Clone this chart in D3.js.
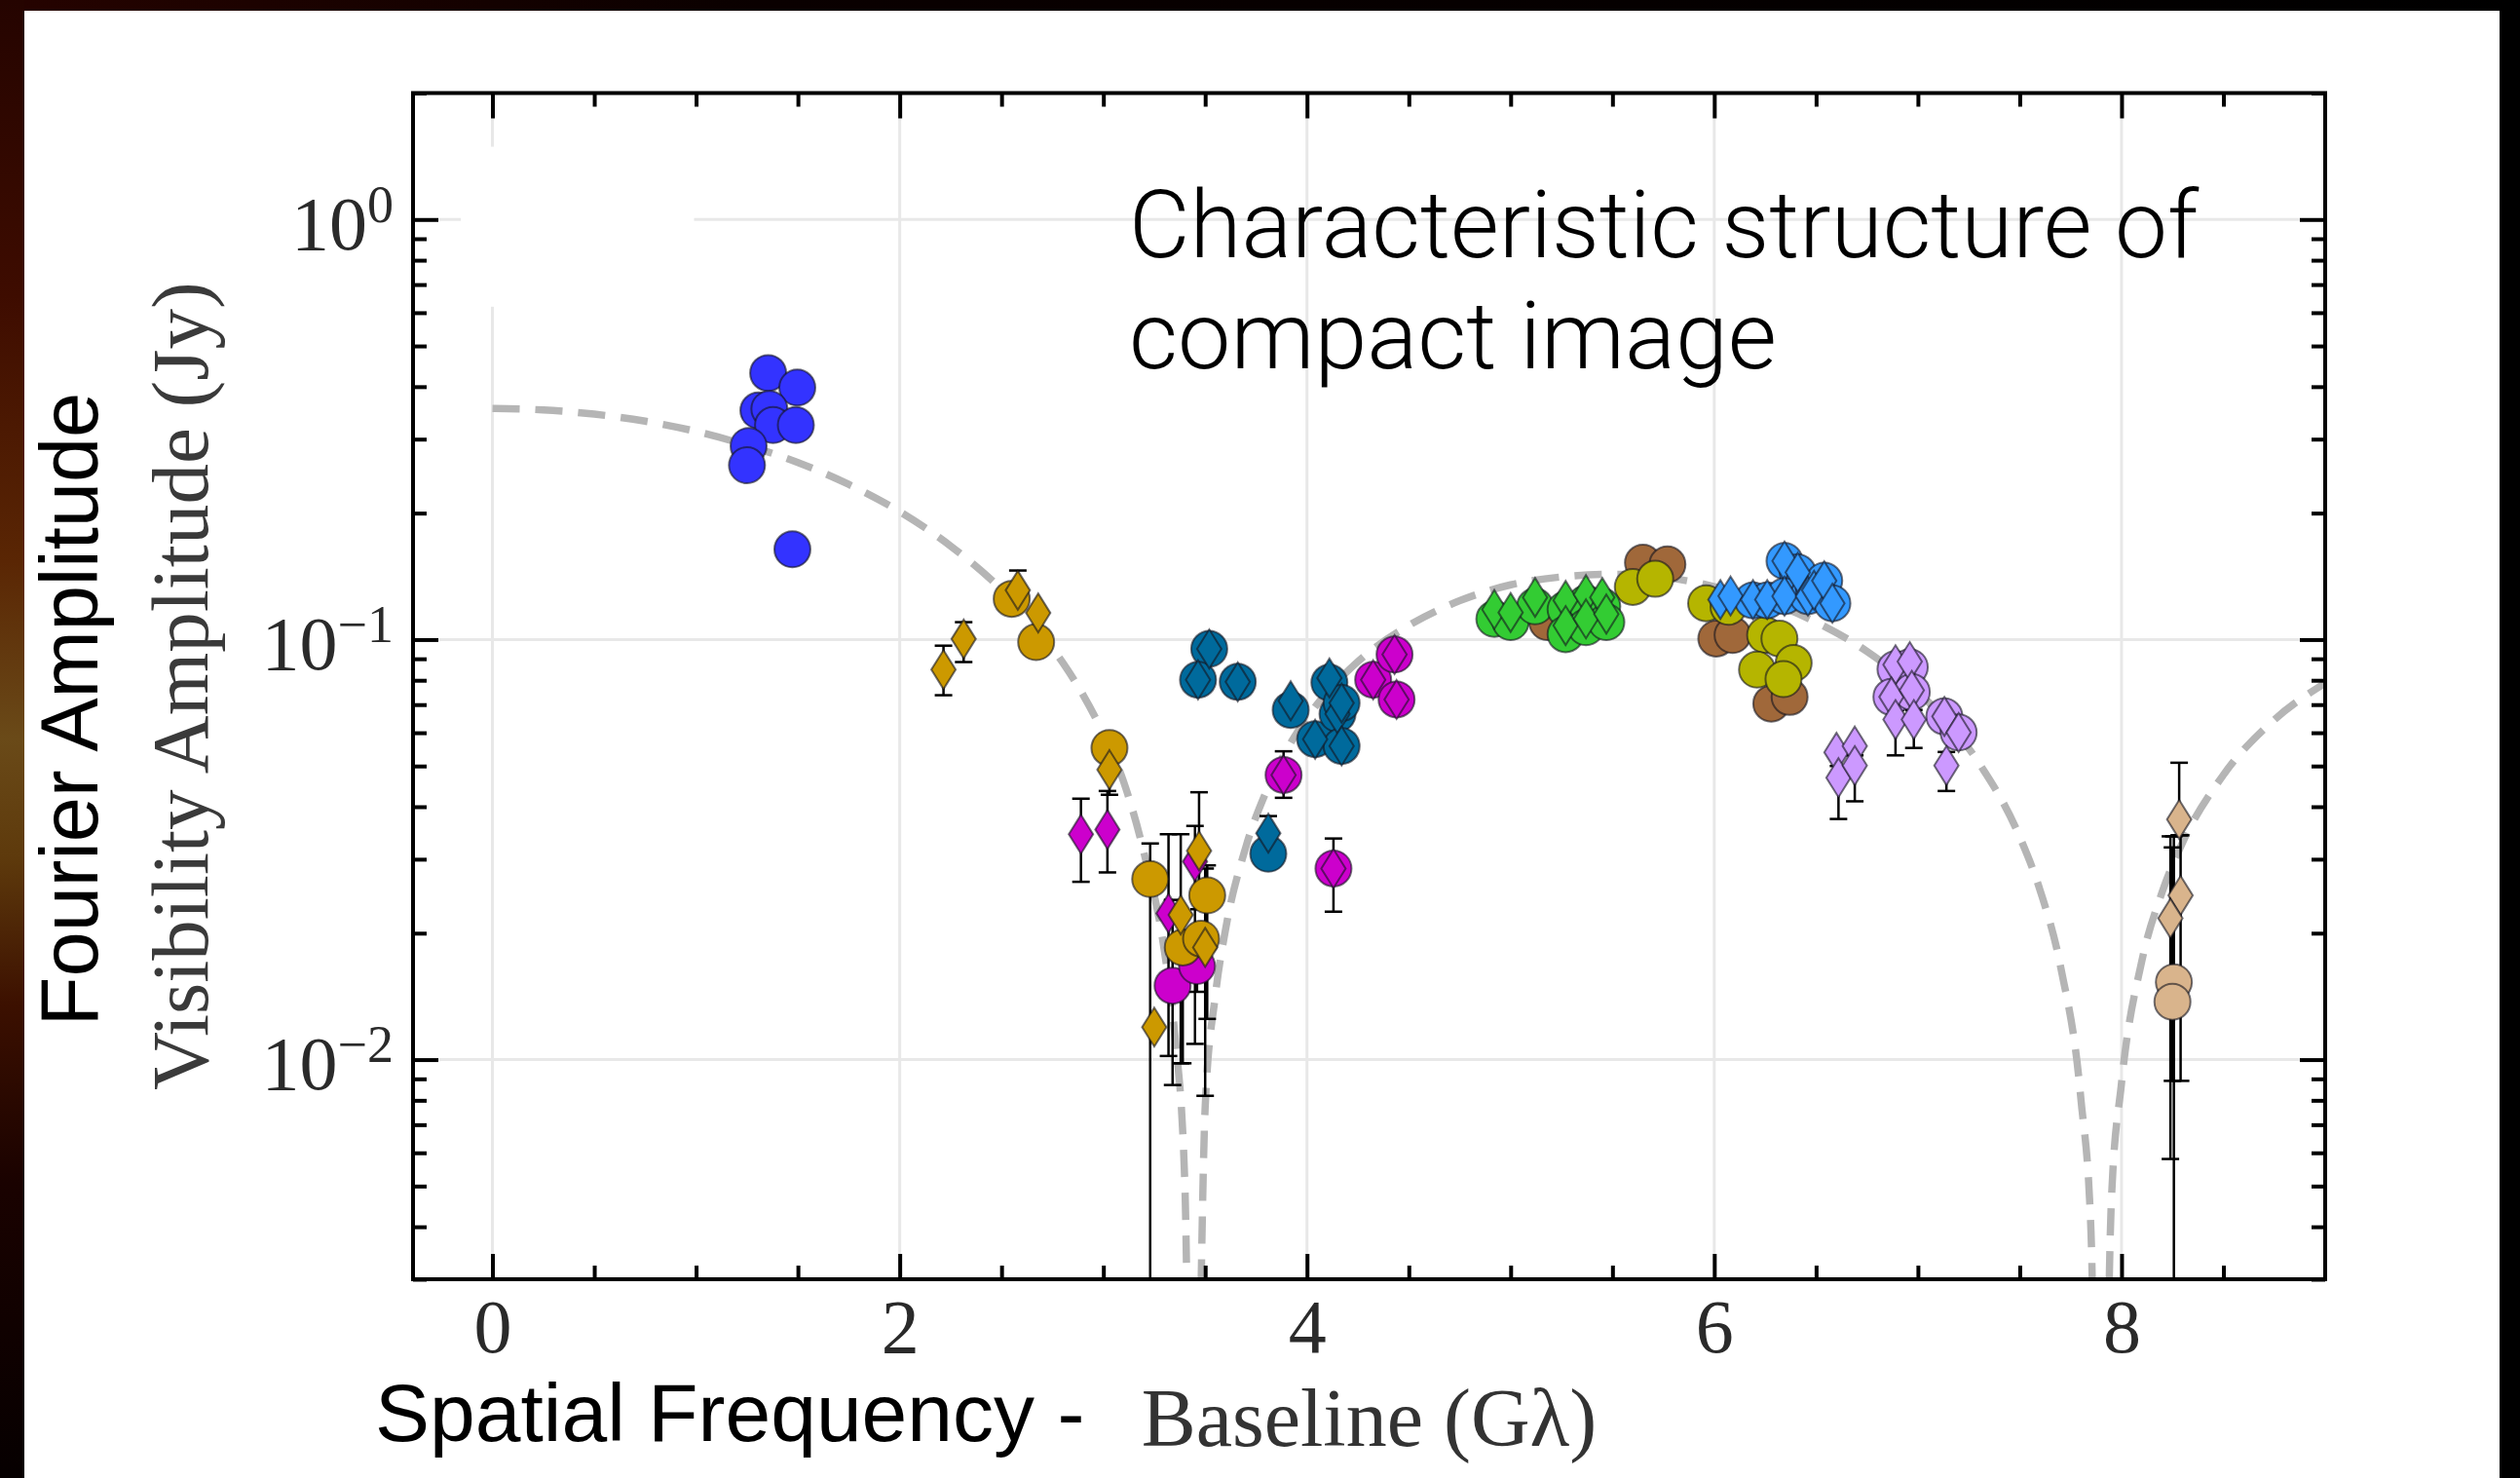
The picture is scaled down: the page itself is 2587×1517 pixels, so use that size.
<!DOCTYPE html>
<html lang="en">
<head>
<meta charset="UTF-8">
<title>Characteristic structure of compact image</title>
<script src="https://d3js.org/d3.v7.min.js"></script>
<style>
  body { margin: 0; background: #000; }
  svg { display: block; }
  .tick line { stroke: #000; stroke-width: 4; }
</style>
</head>
<body>
<div id="chart"></div>
<script>
// ---- data: [baseline Gλ, amplitude Jy, errLow, errHigh] ----
const xMajor = [0, 2, 4, 6, 8];
const xMinor = [0.5, 1, 1.5, 2.5, 3, 3.5, 4.5, 5, 5.5, 6.5, 7, 7.5, 8.5];
const yMajor = [1, 0.1, 0.01];
const yExponents = ["0", "\u22121", "\u22122"];

// dashed model curve
const modelCurve = [
  [0, 0.355], [0.25, 0.352], [0.5, 0.344], [0.75, 0.331], [1, 0.313], [1.25, 0.29],
  [1.5, 0.264], [1.75, 0.234], [2, 0.2016], [2.25, 0.167], [2.5, 0.1315], [2.65, 0.11],
  [2.8, 0.0882], [2.9, 0.0739], [3.0, 0.0597], [3.1, 0.0458], [3.2, 0.031], [3.3, 0.0181],
  [3.35, 0.0116], [3.4, 0.0051], [3.44, 0.0004], [3.5, 0.0077], [3.55, 0.0142], [3.6, 0.0204],
  [3.7, 0.0321], [3.8, 0.0435], [3.9, 0.0546], [4.0, 0.0651], [4.25, 0.0886], [4.5, 0.108],
  [4.75, 0.1237], [5.0, 0.135], [5.25, 0.141], [5.5, 0.143], [5.75, 0.1408], [6.0, 0.1337],
  [6.25, 0.1236], [6.5, 0.11], [6.75, 0.0937], [7.0, 0.0751], [7.15, 0.0632], [7.3, 0.0508],
  [7.5, 0.0339], [7.6, 0.0253], [7.7, 0.0167], [7.8, 0.0081], [7.85, 0.0039], [7.895, 0.0003],
  [7.95, 0.0046], [8.0, 0.0088], [8.1, 0.0172], [8.2, 0.0251], [8.3, 0.0329], [8.5, 0.0476],
  [8.75, 0.0644], [9.0, 0.0788]
];

const blueCircles = [[1.354, 0.431], [1.497, 0.398], [1.306, 0.351], [1.36, 0.354], [1.378, 0.324],
  [1.49, 0.324], [1.258, 0.289], [1.25, 0.26], [1.473, 0.164]];
const blueDiamonds = [];

const tealCircles = [[3.52, 0.095], [3.465, 0.0802], [3.66, 0.0793], [3.92, 0.068], [4.04, 0.0579],
  [4.11, 0.079], [4.15, 0.0665], [4.17, 0.0558], [4.17, 0.0706], [3.81, 0.0309]];
const tealDiamonds = [[3.52, 0.095], [3.465, 0.0802], [3.66, 0.0793], [3.92, 0.0715], [4.04, 0.0579],
  [4.11, 0.081], [4.15, 0.0665], [4.17, 0.0558], [4.17, 0.0706], [3.81, 0.0346, 0.032, 0.038]];

const magentaCircles = [[3.34, 0.015, 0.0087, 0.024], [3.46, 0.0167, 0.0145, 0.019],
  [3.885, 0.0476, 0.042, 0.0542], [4.13, 0.0285, 0.0225, 0.0336], [4.325, 0.0802], [4.43, 0.0921], [4.44, 0.072]];
const magentaDiamonds = [[2.89, 0.0344, 0.0265, 0.0418], [3.02, 0.0353, 0.0279, 0.0436],
  [3.32, 0.0223, 0.0102, 0.0344], [3.45, 0.0296, 0.0109, 0.036], [3.885, 0.0476], [4.13, 0.0285],
  [4.325, 0.0802], [4.43, 0.0921], [4.44, 0.072]];

const goldCircles = [[2.55, 0.125], [2.67, 0.0986, 0.095, 0.102], [3.03, 0.0552], [3.23, 0.0269, 0.001, 0.0327],
  [3.39, 0.0185, 0.0098, 0.0223], [3.48, 0.0194], [3.51, 0.0246, 0.0125, 0.029]];
const goldDiamonds = [[2.215, 0.0848, 0.0737, 0.0967], [2.314, 0.1003, 0.0884, 0.11], [2.58, 0.131, 0.12, 0.146],
  [2.68, 0.1157], [3.03, 0.049, 0.0427, 0.056], [3.25, 0.01195], [3.38, 0.0221, 0.0098, 0.0344],
  [3.47, 0.0314, 0.0228, 0.0433], [3.5, 0.0185, 0.0082, 0.0285]];

const brownCircles = [[5.18, 0.11], [5.65, 0.1524], [5.77, 0.151], [6.01, 0.1005], [6.09, 0.1025],
  [6.28, 0.0704], [6.37, 0.073]];
const brownDiamonds = [];

const oliveCircles = [[5.6, 0.1334], [5.71, 0.1395], [5.96, 0.122], [6.07, 0.1197], [6.25, 0.1025],
  [6.32, 0.1005], [6.21, 0.0848], [6.39, 0.0879], [6.34, 0.0805]];
const oliveDiamonds = [];

const greenCircles = [[4.92, 0.112], [5.0, 0.11], [5.12, 0.12], [5.27, 0.118], [5.37, 0.122],
  [5.45, 0.12], [5.27, 0.103], [5.37, 0.107], [5.47, 0.11]];
const greenDiamonds = [[4.92, 0.118], [5.0, 0.116], [5.12, 0.126], [5.27, 0.124], [5.37, 0.128],
  [5.45, 0.126], [5.27, 0.108], [5.37, 0.112], [5.47, 0.115]];

const lightBlueCircles = [[6.19, 0.124], [6.26, 0.124], [6.345, 0.1538], [6.41, 0.1445], [6.345, 0.1268],
  [6.46, 0.1268], [6.49, 0.131], [6.54, 0.138], [6.58, 0.122]];
const lightBlueDiamonds = [[6.03, 0.1245], [6.08, 0.127], [6.19, 0.1245], [6.26, 0.1245], [6.345, 0.1538],
  [6.41, 0.1445], [6.345, 0.1268], [6.46, 0.1268], [6.49, 0.131], [6.54, 0.138], [6.58, 0.122]];

const lavenderCircles = [[6.89, 0.085], [6.96, 0.086], [6.87, 0.073], [6.97, 0.075], [7.13, 0.0656], [7.2, 0.0601]];
const lavenderDiamonds = [[6.89, 0.0871], [6.96, 0.0886], [6.87, 0.073], [6.97, 0.0757],
  [6.89, 0.0645, 0.053, 0.068], [6.98, 0.0645, 0.0552, 0.068], [7.13, 0.0656], [7.2, 0.0601],
  [7.14, 0.0501, 0.0436, 0.054], [6.6, 0.0539], [6.61, 0.0469, 0.0374, 0.05], [6.69, 0.0558],
  [6.69, 0.0501, 0.0412, 0.053]];

const tanCircles = [[8.257, 0.01528, 0.001, 0.034], [8.25, 0.01373, 0.0089, 0.032]];
const tanDiamonds = [[8.283, 0.0373, 0.0342, 0.0509], [8.29, 0.0246, 0.0089, 0.0342], [8.24, 0.0217, 0.0058, 0.034]];

// draw order (back to front)
const seriesList = [
  { name: "blue", circles: blueCircles, diamonds: blueDiamonds },
  { name: "teal", circles: tealCircles, diamonds: tealDiamonds },
  { name: "magenta", circles: magentaCircles, diamonds: magentaDiamonds },
  { name: "gold", circles: goldCircles, diamonds: goldDiamonds },
  { name: "brown", circles: brownCircles, diamonds: brownDiamonds },
  { name: "olive", circles: oliveCircles, diamonds: oliveDiamonds },
  { name: "green", circles: greenCircles, diamonds: greenDiamonds },
  { name: "lightBlue", circles: lightBlueCircles, diamonds: lightBlueDiamonds },
  { name: "lavender", circles: lavenderCircles, diamonds: lavenderDiamonds },
  { name: "tan", circles: tanCircles, diamonds: tanDiamonds }
];

const colors = {
  blue: "#3333ff", teal: "#006a9c", magenta: "#cc00cc", gold: "#cc9900", brown: "#a0683a",
  olive: "#b5b500", green: "#33cc33", lightBlue: "#3399ff", lavender: "#cc99ff", tan: "#d9b48c"
};

// ---- layout ----
const W = 2587, H = 1517;
const plot = { left: 424, right: 2387, top: 95.5, bottom: 1313 };

const svg = d3.select("#chart").append("svg")
  .attr("width", W).attr("height", H);

const defs = svg.append("defs");
const side = defs.append("linearGradient").attr("id", "sideGrad")
  .attr("x1", 0).attr("y1", 0).attr("x2", 0).attr("y2", 1);
[[0, "#250400"], [0.2, "#3e0c00"], [0.38, "#5a2604"], [0.5, "#6a4a18"], [0.58, "#5e3a0c"],
 [0.68, "#3c1000"], [0.8, "#1a0200"], [1, "#060000"]].forEach(s =>
  side.append("stop").attr("offset", s[0]).attr("stop-color", s[1]));
const topGrad = defs.append("linearGradient").attr("id", "topGrad")
  .attr("x1", 0).attr("y1", 0).attr("x2", 1).attr("y2", 0);
[[0, "#260300"], [0.3, "#0a0000"], [1, "#000"]].forEach(s =>
  topGrad.append("stop").attr("offset", s[0]).attr("stop-color", s[1]));
defs.append("clipPath").attr("id", "plotClip").append("rect")
  .attr("x", plot.left).attr("y", plot.top)
  .attr("width", plot.right - plot.left).attr("height", plot.bottom - plot.top);

// background frame like the slide
svg.append("rect").attr("width", W).attr("height", H).attr("fill", "#000");
svg.append("rect").attr("width", W).attr("height", 11).attr("fill", "url(#topGrad)");
svg.append("rect").attr("y", 0).attr("width", 25).attr("height", H).attr("fill", "url(#sideGrad)");
svg.append("rect").attr("x", 25).attr("y", 11).attr("width", 2541).attr("height", H - 11).attr("fill", "#fff");

const x = d3.scaleLinear().domain([-0.39, 9]).range([plot.left, plot.right]);
const y = d3.scaleLog().domain([0.003, 2]).range([plot.bottom, plot.top]);

// grid
const grid = svg.append("g").attr("stroke", "#e8e8e8").attr("stroke-width", 3);
grid.selectAll(".vx").data(xMajor).join("line")
  .attr("x1", d => x(d)).attr("x2", d => x(d)).attr("y1", plot.top).attr("y2", plot.bottom);
grid.selectAll(".hy").data(yMajor).join("line")
  .attr("y1", d => y(d)).attr("y2", d => y(d)).attr("x1", plot.left).attr("x2", plot.right);
// blanked patch where the original had a covered label
svg.append("rect")
  .attr("x", x(-0.155)).attr("y", y(1.49))
  .attr("width", x(0.99) - x(-0.155)).attr("height", y(0.62) - y(1.49))
  .attr("fill", "#fff");

// dashed model
const line = d3.line().x(d => x(d[0])).y(d => y(d[1])).curve(d3.curveMonotoneX);
svg.append("path").datum(modelCurve)
  .attr("clip-path", "url(#plotClip)")
  .attr("d", line).attr("fill", "none")
  .attr("stroke", "#b5b5b5").attr("stroke-width", 7.5)
  .attr("stroke-dasharray", "28,16");

// points
const dataLayer = svg.append("g").attr("clip-path", "url(#plotClip)");
const diamondPath = "M0,-20L12.5,0L0,20L-12.5,0Z";
const allPts = [];
seriesList.forEach(s => {
  s.circles.forEach(p => allPts.push({ s: s.name, shape: "c", p }));
  s.diamonds.forEach(p => allPts.push({ s: s.name, shape: "d", p }));
});

// error bars first
const errs = allPts.filter(d => d.p.length > 2);
const eg = dataLayer.append("g").attr("stroke", "#000").attr("stroke-width", 2.5);
eg.selectAll(".ev").data(errs).join("line")
  .attr("x1", d => x(d.p[0])).attr("x2", d => x(d.p[0]))
  .attr("y1", d => y(d.p[2])).attr("y2", d => y(d.p[3]));
eg.selectAll(".ch").data(errs).join("line")
  .attr("x1", d => x(d.p[0]) - 9).attr("x2", d => x(d.p[0]) + 9)
  .attr("y1", d => y(d.p[3])).attr("y2", d => y(d.p[3]));
eg.selectAll(".cl").data(errs).join("line")
  .attr("x1", d => x(d.p[0]) - 9).attr("x2", d => x(d.p[0]) + 9)
  .attr("y1", d => y(d.p[2])).attr("y2", d => y(d.p[2]));

seriesList.forEach(s => {
  const g = dataLayer.append("g")
    .attr("fill", colors[s.name])
    .attr("stroke", "rgba(20,20,30,0.6)").attr("stroke-width", 2);
  g.selectAll("circle").data(s.circles).join("circle")
    .attr("cx", d => x(d[0])).attr("cy", d => y(d[1])).attr("r", 18.5);
  g.selectAll("path").data(s.diamonds).join("path")
    .attr("d", diamondPath)
    .attr("transform", d => `translate(${x(d[0])},${y(d[1])})`);
});

// axes with inward ticks
function styleAxis(g) {
  g.select(".domain").remove();
  g.selectAll(".tick text")
    .attr("font-family", "'Liberation Serif', 'DejaVu Serif', serif")
    .attr("font-size", 78).attr("fill", "#2a2a2a");
}
svg.append("g").attr("transform", `translate(0,${plot.bottom})`)
  .call(d3.axisBottom(x).tickValues(xMajor).tickSize(-26).tickSizeOuter(0).tickPadding(20).tickFormat(d3.format("d")))
  .call(styleAxis);
svg.append("g").attr("transform", `translate(0,${plot.bottom})`)
  .call(d3.axisBottom(x).tickValues(xMinor).tickSize(-14).tickSizeOuter(0).tickFormat(""))
  .call(styleAxis);
svg.append("g").attr("transform", `translate(0,${plot.top})`)
  .call(d3.axisTop(x).tickValues(xMajor).tickSize(-26).tickSizeOuter(0).tickFormat(""))
  .call(styleAxis);
svg.append("g").attr("transform", `translate(0,${plot.top})`)
  .call(d3.axisTop(x).tickValues(xMinor).tickSize(-14).tickSizeOuter(0).tickFormat(""))
  .call(styleAxis);

const yMinor = [];
[0.001, 0.01, 0.1, 1].forEach(dec => d3.range(2, 10).forEach(k => {
  const v = dec * k;
  if (v >= 0.003 && v <= 2) yMinor.push(v);
}));

const gyl = svg.append("g").attr("transform", `translate(${plot.left},0)`)
  .call(d3.axisLeft(y).tickValues(yMajor).tickSize(-26).tickSizeOuter(0).tickPadding(20).tickFormat(() => ""))
  .call(styleAxis);
gyl.selectAll(".tick text").attr("dy", "0.385em").each(function (d, i) {
  const t = d3.select(this);
  t.append("tspan").text("10");
  t.append("tspan").attr("dy", -28).attr("font-size", 54).text(yExponents[i]);
});
svg.append("g").attr("transform", `translate(${plot.left},0)`)
  .call(d3.axisLeft(y).tickValues(yMinor).tickSize(-14).tickSizeOuter(0).tickFormat(""))
  .call(styleAxis);
svg.append("g").attr("transform", `translate(${plot.right},0)`)
  .call(d3.axisRight(y).tickValues(yMajor).tickSize(-26).tickSizeOuter(0).tickFormat(""))
  .call(styleAxis);
svg.append("g").attr("transform", `translate(${plot.right},0)`)
  .call(d3.axisRight(y).tickValues(yMinor).tickSize(-14).tickSizeOuter(0).tickFormat(""))
  .call(styleAxis);

// frame
svg.append("rect")
  .attr("x", plot.left).attr("y", plot.top)
  .attr("width", plot.right - plot.left).attr("height", plot.bottom - plot.top)
  .attr("fill", "none").attr("stroke", "#000").attr("stroke-width", 4);

// axis titles (LaTeX-style serif)
svg.append("text")
  .attr("x", (plot.left + plot.right) / 2).attr("y", 1484)
  .attr("text-anchor", "middle")
  .attr("font-family", "'Liberation Serif', serif").attr("font-size", 84).attr("fill", "#333")
  .text("Baseline (G\u03bb)");
svg.append("text")
  .attr("transform", `translate(213,${(plot.top + plot.bottom) / 2}) rotate(-90)`)
  .attr("text-anchor", "middle")
  .attr("font-family", "'Liberation Serif', serif").attr("font-size", 83).attr("fill", "#3a3a3a")
  .text("Visibility Amplitude (Jy)");

// slide annotations
svg.append("text")
  .attr("transform", "translate(100,728) rotate(-90)")
  .attr("text-anchor", "middle")
  .attr("font-family", "'Liberation Sans', Arial, sans-serif").attr("font-size", 83).attr("fill", "#000")
  .text("Fourier Amplitude");
svg.append("text")
  .attr("x", 385).attr("y", 1479)
  .attr("font-family", "'Liberation Sans', Arial, sans-serif").attr("font-size", 84).attr("fill", "#000")
  .text("Spatial Frequency -");

const title = svg.append("g")
  .attr("font-family", "Roboto, 'Liberation Sans', sans-serif")
  .attr("font-weight", 300).attr("font-size", 96).attr("fill", "#000");
title.append("text").attr("x", 1159).attr("y", 264)
  .attr("textLength", 1098).attr("lengthAdjust", "spacingAndGlyphs")
  .text("Characteristic structure of");
title.append("text").attr("x", 1159).attr("y", 378)
  .attr("textLength", 665).attr("lengthAdjust", "spacingAndGlyphs")
  .text("compact image");
</script>
</body>
</html>
